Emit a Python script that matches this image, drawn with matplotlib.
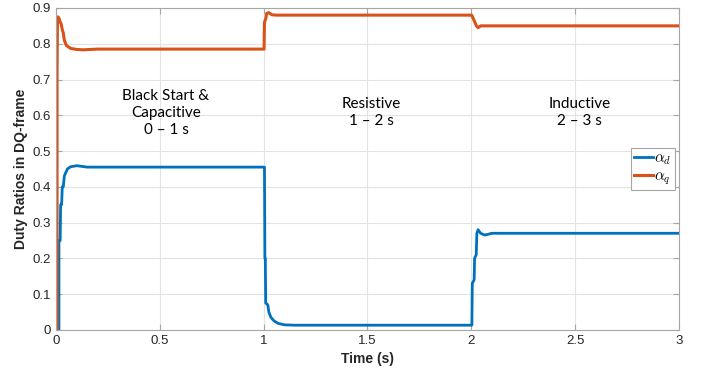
import matplotlib
matplotlib.use("Agg")
import matplotlib.pyplot as plt

# alpha_d (blue) breakpoints
t_d = [0, 0.014, 0.014, 0.02, 0.022, 0.027, 0.03, 0.035, 0.04, 0.047, 0.055,
       0.07, 0.1, 0.15, 0.2, 1.004, 1.006, 1.008, 1.01, 1.02, 1.025, 1.035,
       1.05, 1.07, 1.1, 1.15, 2.003, 2.005, 2.014, 2.016, 2.024, 2.027,
       2.033, 2.045, 2.065, 2.1, 3.0]
alpha_d = [0, 0, 0.25, 0.25, 0.35, 0.35, 0.40, 0.40, 0.43, 0.44, 0.45,
           0.456, 0.459, 0.455, 0.455, 0.455, 0.20, 0.20, 0.075, 0.07, 0.05,
           0.035, 0.025, 0.018, 0.014, 0.013, 0.013, 0.13, 0.14, 0.20, 0.21,
           0.27, 0.28, 0.27, 0.265, 0.27, 0.27]

# alpha_q (orange)
t_q = [0.005, 0.005, 0.007, 0.01, 0.015, 0.02, 0.025, 0.03, 0.035, 0.04, 0.05,
       0.07, 0.1, 0.13, 0.2, 1.002, 1.004, 1.01, 1.015, 1.025, 1.04, 1.06,
       2.002, 2.01, 2.025, 2.033, 2.045, 3.0]
alpha_q = [0, 0.72, 0.86, 0.875, 0.87, 0.86, 0.855, 0.84, 0.83, 0.81, 0.795,
           0.787, 0.784, 0.783, 0.785, 0.785, 0.86, 0.87, 0.885, 0.887, 0.881,
           0.88, 0.88, 0.87, 0.85, 0.845, 0.85, 0.85]

regions = ["Black Start &\nCapacitive\n0 \u2013 1 s", "Resistive\n1 \u2013 2 s",
           "Inductive\n2 \u2013 3 s"]
region_x = [0.53, 1.52, 2.52]

xticks = [0, 0.5, 1, 1.5, 2, 2.5, 3]
xticklabels = ["0", "0.5", "1", "1.5", "2", "2.5", "3"]
yticks = [0, 0.1, 0.2, 0.3, 0.4, 0.5, 0.6, 0.7, 0.8, 0.9]
yticklabels = ["0", "0.1", "0.2", "0.3", "0.4", "0.5", "0.6", "0.7", "0.8", "0.9"]

plt.rcParams['font.family'] = ['Liberation Sans', 'DejaVu Sans']
plt.rcParams['mathtext.fontset'] = 'cm'

fig = plt.figure(figsize=(7.11, 3.8), dpi=100)
ax = fig.add_axes([0.0788, 0.132, 0.876, 0.847])

ax.plot(t_d, alpha_d, color='#0072BD', lw=2.0, label=r'$\alpha_d$')
ax.plot(t_q, alpha_q, color='#D95319', lw=2.2, label=r'$\alpha_q$')

ax.set_xlim(0, 3)
ax.set_ylim(0, 0.9)
ax.set_xticks(xticks)
ax.set_xticklabels(xticklabels)
ax.set_yticks(yticks)
ax.set_yticklabels(yticklabels)
ax.grid(True, color='#E3E3E3', lw=0.8)
ax.set_axisbelow(True)
ax.tick_params(direction='in', length=4, color='#A6A6A6', labelcolor='#262626',
               labelsize=9.5, top=True, right=True)
for s in ax.spines.values():
    s.set_color('#A6A6A6')
    s.set_linewidth(0.8)

ax.set_xlabel('Time (s)', fontsize=10, fontweight='bold', color='#262626')
ax.set_ylabel('Duty Ratios in DQ-frame', fontsize=10, fontweight='bold',
              color='#262626', labelpad=3)

for label, x in zip(regions, region_x):
    ax.text(x, 0.607, label, ha='center', va='center', fontsize=11,
            family='Lato', linespacing=1.25)

leg = ax.legend(loc='center right', bbox_to_anchor=(0.993, 0.50), fontsize=11,
                handlelength=1.25, handletextpad=0.1, borderpad=0.2,
                labelspacing=0.15, fancybox=False, framealpha=1,
                edgecolor='#A6A6A6', borderaxespad=0)
leg.get_frame().set_linewidth(0.8)

fig.savefig('out.png', dpi=100)
